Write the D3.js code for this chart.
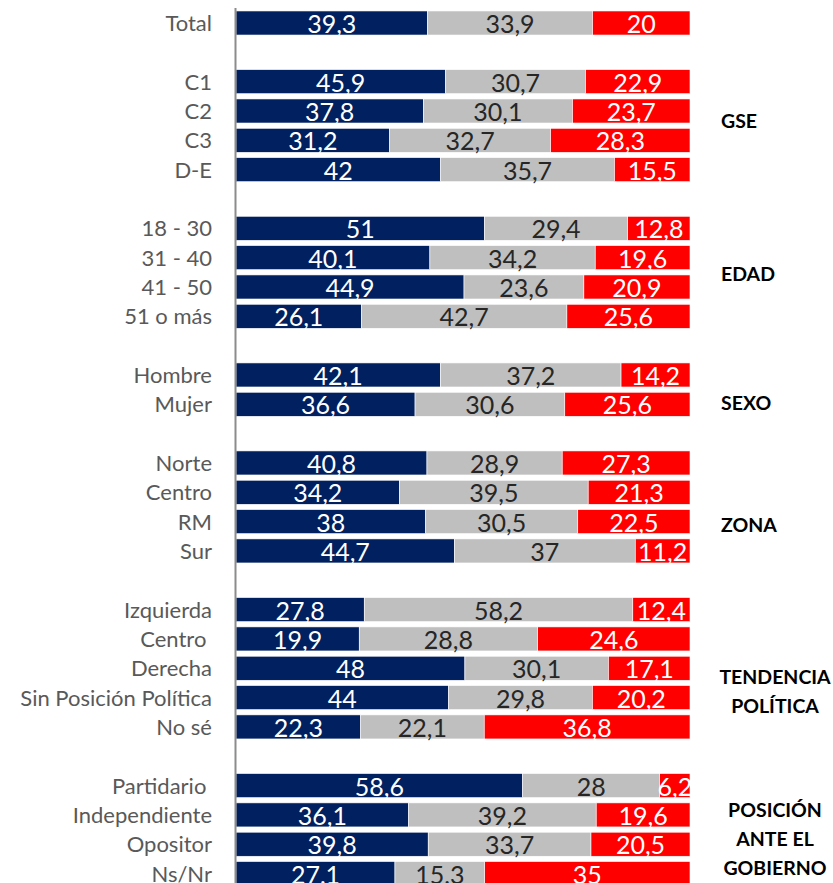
<!DOCTYPE html>
<html>
<head>
<meta charset="utf-8">
<script src="https://cdn.jsdelivr.net/npm/d3@7"></script>
<style>
  body { margin: 0; background: #fff; }
  svg { display: block; font-family: Lato, "Open Sans", sans-serif; }
</style>
</head>
<body>
<svg id="chart" width="833" height="883"></svg>
<script>
"use strict";

// categories, in drawing order (trailing spaces are in the original labels)
const categories = [
  "Total",
  "C1", "C2", "C3", "D-E",
  "18 - 30", "31 - 40", "41 - 50", "51 o más",
  "Hombre", "Mujer",
  "Norte", "Centro", "RM", "Sur",
  "Izquierda", "Centro ", "Derecha", "Sin Posición Política", "No sé",
  "Partidario ", "Independiente", "Opositor", "Ns/Nr",
];
// which group each category belongs to
const categoryGroup = [
  0,
  1, 1, 1, 1,
  2, 2, 2, 2,
  3, 3,
  4, 4, 4, 4,
  5, 5, 5, 5, 5,
  6, 6, 6, 6,
];
const groupNames = [
  [],
  ["GSE"],
  ["EDAD"],
  ["SEXO"],
  ["ZONA"],
  ["TENDENCIA", "POLÍTICA"],
  ["POSICIÓN", "ANTE EL", "GOBIERNO"],
];

// three stacked series (blue, gray, red)
const serieBlue = [
  39.3,
  45.9, 37.8, 31.2, 42,
  51, 40.1, 44.9, 26.1,
  42.1, 36.6,
  40.8, 34.2, 38, 44.7,
  27.8, 19.9, 48, 44, 22.3,
  58.6, 36.1, 39.8, 27.1,
];
const serieGray = [
  33.9,
  30.7, 30.1, 32.7, 35.7,
  29.4, 34.2, 23.6, 42.7,
  37.2, 30.6,
  28.9, 39.5, 30.5, 37,
  58.2, 28.8, 30.1, 29.8, 22.1,
  28, 39.2, 33.7, 15.3,
];
const serieRed = [
  20,
  22.9, 23.7, 28.3, 15.5,
  12.8, 19.6, 20.9, 25.6,
  14.2, 25.6,
  27.3, 21.3, 22.5, 11.2,
  12.4, 24.6, 17.1, 20.2, 36.8,
  6.2, 19.6, 20.5, 35,
];

const seriesColors = ["#002060", "#bfbfbf", "#ff0000"];
const labelColors = ["#ffffff", "#262626", "#ffffff"];

// layout
const barLeft = 236;
const barRight = 690;
const rowStep = 29.33;
const firstRowCenter = 23;
// vertical place of each group title, in row units
const groupLabelRow = [0, 3.35, 8.57, 12.94, 17.13, 22.79, 27.82];

// build rows with a blank row between groups
const rows = [];
categories.forEach((c, i) => {
  if (i > 0 && categoryGroup[i] !== categoryGroup[i - 1]) {
    rows.push(null);
  }
  const total = serieBlue[i] + serieGray[i] + serieRed[i];
  rows.push({
    name: c,
    group: categoryGroup[i],
    values: [serieBlue[i], serieGray[i], serieRed[i]],
    total: total,
  });
});

const svg = d3.select("#chart");

const y = d3
  .scaleBand()
  .domain(d3.range(rows.length))
  .range([firstRowCenter - rowStep / 2, firstRowCenter - rowStep / 2 + rowStep * rows.length])
  .paddingInner(0.18)
  .paddingOuter(0.09);

const x = d3.scaleLinear().domain([0, 1]).range([barLeft, barRight]);

const dataRows = rows
  .map((r, i) => (r ? Object.assign({ idx: i }, r) : null))
  .filter((r) => r);

// segments, each row is stacked to 100%
const segs = [];
dataRows.forEach((r) => {
  let acc = 0;
  r.values.forEach((v, k) => {
    segs.push({ row: r.idx, k: k, v: v, x0: acc / r.total, x1: (acc + v) / r.total });
    acc += v;
  });
});

svg
  .append("g")
  .selectAll("rect")
  .data(segs)
  .join("rect")
  .attr("x", (d) => x(d.x0))
  .attr("y", (d) => y(d.row))
  .attr("width", (d) => x(d.x1) - x(d.x0))
  .attr("height", y.bandwidth())
  .attr("fill", (d) => seriesColors[d.k])
  .attr("stroke", "#ffffff")
  .attr("stroke-width", 0.6);

// value labels
svg
  .append("g")
  .selectAll("text")
  .data(segs)
  .join("text")
  .attr("x", (d) => (x(d.x0) + x(d.x1)) / 2)
  .attr("y", (d) => y(d.row) + y.bandwidth() / 2 + 10)
  .attr("text-anchor", "middle")
  .attr("font-size", 25)
  .attr("fill", (d) => labelColors[d.k])
  .text((d) => String(d.v).replace(".", ","));

// axis line
svg
  .append("line")
  .attr("x1", barLeft - 0.5)
  .attr("x2", barLeft - 0.5)
  .attr("y1", 8)
  .attr("y2", 883)
  .attr("stroke", "#8c8c8c")
  .attr("stroke-width", 2);

// category labels
svg
  .append("g")
  .selectAll("text")
  .data(dataRows)
  .join("text")
  .attr("x", 212)
  .attr("y", (d) => y(d.idx) + y.bandwidth() / 2 + 8)
  .attr("text-anchor", "end")
  .attr("font-size", 22)
  .attr("fill", "#595959")
  .style("white-space", "pre")
  .text((d) => d.name);

// group titles
const titleG = svg.append("g");
groupNames.forEach((lines, g) => {
  if (lines.length === 0) return;
  const center = firstRowCenter + groupLabelRow[g] * rowStep;
  const lineH = 29;
  const multi = lines.length > 1;
  lines.forEach((t, j) => {
    titleG
      .append("text")
      .attr("x", multi ? 775 : 721)
      .attr("y", center + (j - (lines.length - 1) / 2) * lineH + 7)
      .attr("text-anchor", multi ? "middle" : "start")
      .attr("font-size", 19.5)
      .attr("font-weight", "bold")
      .attr("fill", "#000")
      .text(t);
  });
});
</script>
</body>
</html>
